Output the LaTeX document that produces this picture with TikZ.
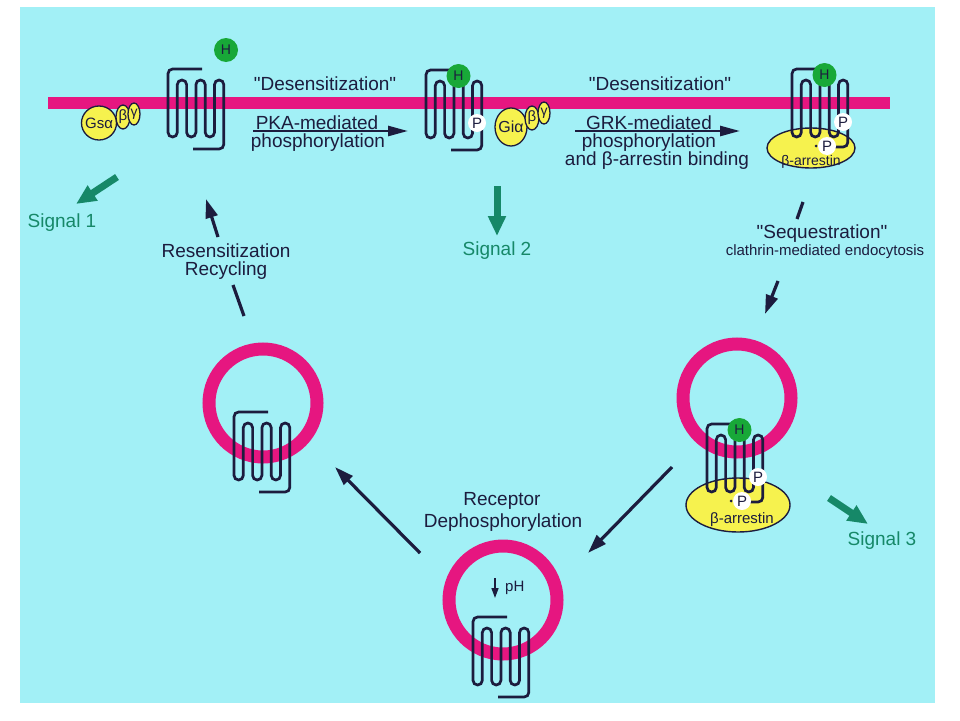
\documentclass[tikz,border=0pt]{standalone}
\usepackage{fontspec}
\setmainfont{Liberation Sans}[Ligatures=TeXOff]
\usetikzlibrary{arrows.meta,shapes.geometric}
\definecolor{bgcyan}{RGB}{162,240,246}
\definecolor{mag}{RGB}{230,22,128}
\definecolor{navy}{RGB}{28,28,62}
\definecolor{yel}{RGB}{246,242,78}
\definecolor{hgreen}{RGB}{24,168,56}
\definecolor{sig}{RGB}{22,136,104}
\newcommand\myfs[1]{\fontsize{#1}{#1}\selectfont}
\tikzset{
  rec/.style={draw=navy,line width=2.7pt,rounded corners=4.6pt},
  receptor/.pic={\draw[rec] (34,-11) -- (0,-11) -- (0,57) -- (9.3,57) -- (9.3,0) -- (18.6,0) -- (18.6,57) -- (27.9,57) -- (27.9,0) -- (37.2,0) -- (37.2,57) -- (46.5,57) -- (46.5,0) -- (55.8,0) -- (55.8,69) -- (25,69);},
  receptorb/.pic={\draw[rec] (34,-11) -- (0,-11) -- (0,57) -- (9.3,57) -- (9.3,0) -- (18.6,0) -- (18.6,57) -- (27.9,57) -- (27.9,0) -- (37.2,0) -- (37.2,57) -- (46.5,57) -- (46.5,0) -- (55.8,0) -- (55.8,67) -- (43,67);},
  ring/.style={circle,draw=mag,line width=13pt,minimum size=108pt,inner sep=0pt},
  barr/.style={ellipse,draw=navy,line width=1.4pt,fill=yel,inner sep=0pt},
  gp/.style={ellipse,draw=navy,line width=1.3pt,fill=yel,inner sep=0pt},
  gtxt/.style={inner sep=0pt,text=navy,font={\myfs{15}}},
  hc/.style={circle,fill=hgreen,minimum size=24pt,inner sep=0pt,text=navy,font={\myfs{14}}},
  pc/.style={circle,fill=white,minimum size=18pt,inner sep=0pt,text=navy,font={\myfs{15}}},
  dotc/.style={circle,fill=navy,minimum size=3pt,inner sep=0pt},
  lbl/.style={anchor=base,inner sep=0pt,text=navy,font={\myfs{19}}},
  slbl/.style={anchor=base,inner sep=0pt,text=sig,font={\myfs{19}}},
  darr/.style={draw=navy,line width=2.6pt,-{Triangle[length=20pt,width=10pt]}},
  barrow/.style={draw=navy,line width=3.2pt,-{Triangle[length=19pt,width=12pt]}},
  bline/.style={draw=navy,line width=3.2pt},
  sarrow/.style={draw=sig,line width=7pt,-{Triangle[length=20pt,width=17pt]}},
}
\begin{document}
\begin{tikzpicture}[x=1pt,y=-1pt]
\useasboundingbox (0,0) rectangle (960,720);
\fill[bgcyan] (20,7) rectangle (935,703);
% membrane
\fill[mag] (48,97) rectangle (890,109);
% vesicles
\node[ring] (ves1) at (263,403) {};
\node[ring] (ves2) at (503,600) {};
\node[ring] (ves3) at (737,398) {};
% beta-arrestin
\node[barr,minimum width=88pt,minimum height=40pt] (barr1) at (811,148) {};
\node[barr,minimum width=104pt,minimum height=54pt] (barr2) at (738,505) {};
% receptors
\pic at (168,80) {receptor};
\pic at (426,81) {receptor};
\pic at (792,80) {receptorb};
\pic at (234,423) {receptor};
\pic at (473,628) {receptor};
\pic at (707,435) {receptorb};
% G proteins
\node[gp,minimum width=35pt,minimum height=34pt] (gsa) at (99,123) {};
\node[gp,minimum width=14pt,minimum height=24pt] (gsb) at (123,117) {};
\node[gp,minimum width=12pt,minimum height=22pt] (gsg) at (134,114) {};
\node[gtxt] at (gsa) {Gsα};
\node[gtxt] at (gsb) {β};
\node[gtxt,font={\myfs{14}}] at (gsg) {γ};
\node[gp,minimum width=32pt,minimum height=38pt] (gia) at (511,127) {};
\node[gp,minimum width=14pt,minimum height=24pt] (gib) at (532,118) {};
\node[gp,minimum width=12pt,minimum height=22pt] (gig) at (544,113) {};
\node[gtxt,font={\myfs{16}}] at (gia) {Giα};
\node[gtxt] at (gib) {β};
\node[gtxt,font={\myfs{14}}] at (gig) {γ};
% hormone and phosphates
\node[hc] (h1) at (226,50) {H};
\node[hc] (h2) at (458.5,76) {H};
\node[hc] (h3) at (824.5,75) {H};
\node[hc] (h4) at (739.5,430) {H};
\node[pc] (p2) at (477,123) {P};
\node[pc] (p3a) at (843,122) {P};
\node[pc] (p3b) at (827,146) {P};
\node[dotc] (d3) at (816,146) {};
\node[pc] (p4a) at (758,477) {P};
\node[pc] (p4b) at (742,501) {P};
\node[dotc] (d4) at (731,501) {};
\node[inner sep=0pt,anchor=base,text=navy,font={\myfs{14}}] (ba1t) at (811,165) {β-arrestin};
\node[inner sep=0pt,anchor=base,text=navy,font={\myfs{15}}] (ba2t) at (742,523) {β-arrestin};
% labels
\node[lbl] (des1) at (325,90) {"Desensitization"};
\node[lbl] (des2) at (660,90) {"Desensitization"};
\node[lbl] (pka1) at (317,129) {PKA-mediated};
\node[lbl] (pka2) at (318,147) {phosphorylation};
\node[lbl] (grk1) at (649,129) {GRK-mediated};
\node[lbl] (grk2) at (649,147) {phosphorylation};
\node[lbl] (grk3) at (657,165) {and β-arrestin binding};
\node[lbl] (res1) at (226,257) {Resensitization};
\node[lbl] (res2) at (226,275) {Recycling};
\node[lbl] (seq1) at (822,238) {"Sequestration"};
\node[lbl,font={\myfs{15}}] (seq2) at (825,255) {clathrin-mediated endocytosis};
\node[lbl] (dep1) at (502,505) {Receptor};
\node[lbl] (dep2) at (503,527) {Dephosphorylation};
\node[slbl] (s1) at (62,227) {Signal 1};
\node[slbl] (s2) at (497,255) {Signal 2};
\node[slbl] (s3) at (882,545) {Signal 3};
\node[inner sep=0pt,anchor=base west,text=navy,font={\myfs{15}}] (ph) at (505,591) {pH};
% arrow end points
\coordinate (pkaS) at (253,131); \coordinate (pkaE) at (408,131);
\coordinate (grkS) at (575,131); \coordinate (grkE) at (740,131);
\coordinate (rsA) at (244,316); \coordinate (rsB) at (233,285);
\coordinate (rsC) at (218,237); \coordinate (rsD) at (206,199);
\coordinate (sqA) at (803,202); \coordinate (sqB) at (797,219);
\coordinate (sqC) at (778,281); \coordinate (sqD) at (765,314);
\coordinate (v3a) at (672,467); \coordinate (v2a) at (588,553);
\coordinate (v2b) at (420,553); \coordinate (v1a) at (335,467);
\coordinate (s1a) at (117,177); \coordinate (s1b) at (76,204);
\coordinate (s2a) at (497,186); \coordinate (s2b) at (497,236);
\coordinate (s3a) at (829,498); \coordinate (s3b) at (868,524);
\coordinate (phA) at (495,578); \coordinate (phB) at (495,598);
% arrows
\draw[darr] (pkaS) -- (pkaE);
\draw[darr] (grkS) -- (grkE);
\draw[bline] (rsA) -- (rsB);
\draw[barrow] (rsC) -- (rsD);
\draw[bline] (sqA) -- (sqB);
\draw[barrow] (sqC) -- (sqD);
\draw[barrow] (v3a) -- (v2a);
\draw[barrow] (v2b) -- (v1a);
\draw[sarrow] (s1a) -- (s1b);
\draw[sarrow] (s2a) -- (s2b);
\draw[sarrow] (s3a) -- (s3b);
\draw[draw=navy,line width=1.6pt,-{Triangle[length=10pt,width=7pt]}] (phA) -- (phB);
\end{tikzpicture}
\end{document}
